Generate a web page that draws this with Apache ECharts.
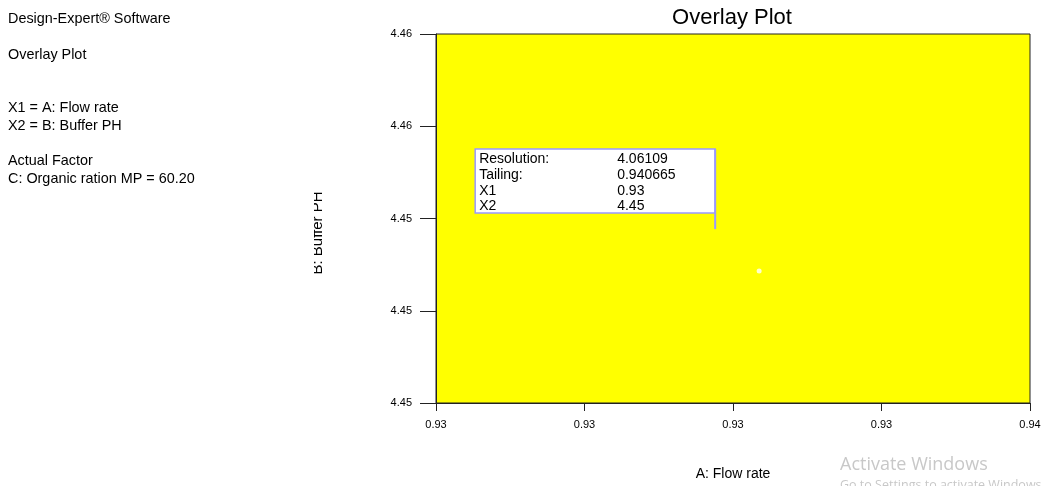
<!DOCTYPE html>
<html>
<head>
<meta charset="utf-8">
<script src="https://cdn.jsdelivr.net/npm/echarts@6/dist/echarts.min.js"></script>
<style>
html,body{margin:0;padding:0;background:#fff;}
#chart{width:1051px;height:486px;}
</style>
</head>
<body>
<div id="chart"></div>
<script>
// ---- data ----
const xMin = 0.930, xMax = 0.935, xInterval = 0.00125;
const yMin = 4.450, yMax = 4.458, yInterval = 0.002;
const xTickLabels = ['0.93', '0.93', '0.93', '0.93', '0.94'];
const yTickLabels = ['4.45', '4.45', '4.45', '4.46', '4.46'];
const optimumPoint = [0.93272, 4.45286];
const flagPoint = [0.93235, 4.45377];
const flagNames = ['Resolution:', 'Tailing:', 'X1', 'X2'];
const flagValues = ['4.06109', '0.940665', '0.93', '4.45'];
const infoLines = [
  'Design-Expert\u00AE Software', '', 'Overlay Plot', '', '', '',
  'X1 = A: Flow rate', 'X2 = B: Buffer PH', '',
  'Actual Factor', 'C: Organic ration MP = 60.20'
];

const FONT = 'Liberation Sans, Arial, sans-serif';
const chart = echarts.init(document.getElementById('chart'), null, {renderer: 'canvas'});

const infoGraphics = [];
const infoY = [18, 0, 54, 0, 0, 0, 107, 125, 0, 160, 178];
infoLines.forEach((t, i) => {
  if (!t) return;
  infoGraphics.push({
    type: 'text', x: 8, y: infoY[i] + 1,
    style: {text: t, font: '14.4px ' + FONT, fill: '#000', verticalAlign: 'middle'}
  });
});

const option = {
  backgroundColor: '#fff',
  animation: false,
  grid: {
    left: 436, top: 34, width: 594, height: 372,
    show: true, backgroundColor: '#FFFF00', borderColor: '#222', borderWidth: 1
  },
  xAxis: {
    type: 'value', min: xMin, max: xMax, interval: xInterval,
    name: 'A: Flow rate', nameLocation: 'middle', nameGap: 64,
    nameTextStyle: {fontFamily: FONT, fontSize: 14, color: '#000'},
    axisLine: {show: true, onZero: false, lineStyle: {color: '#222', width: 1}},
    axisTick: {show: true, length: 8, lineStyle: {color: '#222'}},
    axisLabel: {
      margin: 16, fontFamily: FONT, fontSize: 11, color: '#000',
      formatter: v => xTickLabels[Math.round((v - xMin) / xInterval)] || ''
    },
    splitLine: {show: false}
  },
  yAxis: {
    type: 'value', min: yMin, max: yMax, interval: yInterval,
    axisLine: {show: true, onZero: false, lineStyle: {color: '#222', width: 1}},
    axisTick: {show: true, length: 16, lineStyle: {color: '#222'}},
    axisLabel: {
      margin: 24, fontFamily: FONT, fontSize: 11, color: '#000',
      formatter: v => yTickLabels[Math.round((v - yMin) / yInterval)] || ''
    },
    splitLine: {show: false}
  },
  graphic: infoGraphics.concat([
    {
      type: 'text', x: 732, y: 18,
      style: {text: 'Overlay Plot', font: '22px ' + FONT, fill: '#000',
              align: 'center', verticalAlign: 'middle'}
    },
    {
      type: 'text', x: 318, y: 233, rotation: Math.PI / 2,
      style: {text: 'B: Buffer PH', font: '15px ' + FONT, fill: '#000',
              align: 'center', verticalAlign: 'middle'}
    },
    {type: 'rect', shape: {x: 300, y: 180, width: 14, height: 110},
     style: {fill: '#fff'}, z: 200},
    {
      type: 'text', left: 840, top: 456,
      style: {text: 'Activate Windows', font: '18px Open Sans, ' + FONT, fill: '#c8c8c8'}
    },
    {
      type: 'text', left: 840, top: 479,
      style: {text: 'Go to Settings to activate Windows.', font: '12.5px Open Sans, ' + FONT, fill: '#c8c8c8'}
    }
  ]),
  series: [
    {
      type: 'scatter', data: [optimumPoint], symbol: 'circle', symbolSize: 5,
      itemStyle: {color: '#fff'}, silent: true, z: 3
    },
    {
      type: 'custom', data: [flagPoint], z: 5, silent: true,
      renderItem: function (params, api) {
        const p = api.coord([api.value(0), api.value(1)]);
        const bx = p[0] - 240, by = p[1] - 80, bw = 240, bh = 64;
        const children = [
          {type: 'rect', shape: {x: bx, y: by, width: bw, height: bh},
           style: {fill: '#fff', stroke: '#9999ff', lineWidth: 1.5}},
          {type: 'line', shape: {x1: p[0], y1: by, x2: p[0], y2: p[1]},
           style: {stroke: '#9999ff', lineWidth: 2}}
        ];
        flagNames.forEach((n, i) => {
          children.push({type: 'text', x: bx + 4, y: by + 10.5 + i * 15.6,
            style: {text: n, font: '14px ' + FONT, fill: '#000', verticalAlign: 'middle'}});
          children.push({type: 'text', x: bx + 142, y: by + 10.5 + i * 15.6,
            style: {text: flagValues[i], font: '14px ' + FONT, fill: '#000', verticalAlign: 'middle'}});
        });
        return {type: 'group', children: children};
      }
    }
  ]
};
chart.setOption(option);
</script>
</body>
</html>
